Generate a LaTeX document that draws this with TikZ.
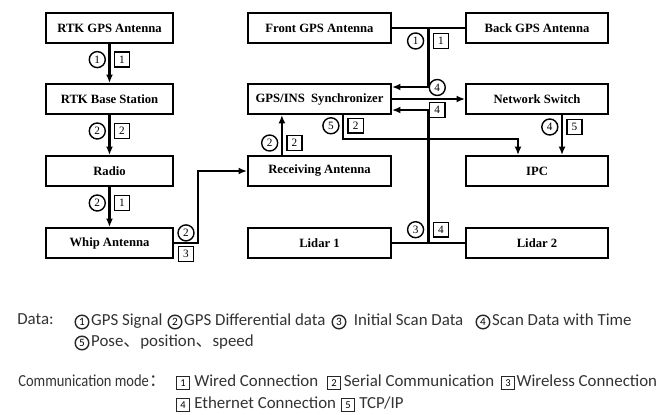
\documentclass[tikz,border=0pt]{standalone}
\usepackage{fontspec}
\setmainfont{Liberation Serif}
\setsansfont{Carlito}
\newfontfamily\cjkfont{Noto Sans CJK SC}
\usetikzlibrary{arrows.meta, positioning, calc}

\begin{document}
\begin{tikzpicture}[x=0.025cm, y=-0.025cm,
  block/.style={draw, line width=1.4pt, minimum height=0.75cm, font=\bfseries\fontsize{9}{11}\selectfont},
  wire/.style={line width=1.5pt},
  arr/.style={wire, -{Latex[length=6pt,width=5pt]}},
  cnum/.style={draw, circle, line width=1pt, inner sep=0pt, minimum size=0.4cm, font=\fontsize{8}{9}\selectfont},
  bnum/.style={draw, line width=1pt, inner sep=0pt, minimum width=0.38cm, minimum height=0.37cm, font=\fontsize{8}{9}\selectfont},
  leg/.style={font=\sffamily\fontsize{12}{14}\selectfont, text=black!80, inner sep=0pt, text height=1.5ex, text depth=.3ex, anchor=west},
  lcirc/.style={draw=black!85, circle, line width=1pt, inner sep=0pt, minimum size=0.34cm, font=\sffamily\fontsize{8}{8}\selectfont},
  lbox/.style={draw=black!85, line width=0.9pt, inner sep=0pt, minimum size=0.31cm, font=\sffamily\fontsize{7.5}{8}\selectfont}]
\useasboundingbox (0,0) rectangle (662,414);

\node[block, minimum width=3.175cm] (rtkant) at (109.5,28) {RTK GPS Antenna};
\node[block, minimum width=3.175cm] (rtkbase) at (109.5,99) {RTK Base Station};
\node[block, minimum width=3.175cm] (radio) at (109.5,171) {Radio};
\node[block, minimum width=3.175cm] (whip) at (109.5,243) {Whip Antenna};
\node[block, minimum width=3.575cm] (front) at (319.5,28) {Front GPS Antenna};
\node[block, minimum width=3.575cm] (sync) at (319.5,99) {GPS/INS\ \ Synchronizer};
\node[block, minimum width=3.575cm] (recv) at (319.5,171) {Receiving Antenna};
\node[block, minimum width=3.575cm] (lidar1) at (319.5,243) {Lidar 1};
\node[block, minimum width=3.55cm] (back) at (537,28) {Back GPS Antenna};
\node[block, minimum width=3.55cm] (switch) at (537,99) {Network Switch};
\node[block, minimum width=3.55cm] (ipc) at (537,171) {IPC};
\node[block, minimum width=3.55cm] (lidar2) at (537,243) {Lidar 2};

\draw[arr] (rtkant) -- node[cnum, left=2.5pt, pos=.4]{1} node[bnum, right=3pt, pos=.4]{1} (rtkbase);
\draw[arr] (rtkbase) -- node[cnum, left=2.5pt, pos=.4]{2} node[bnum, right=3pt, pos=.4]{2} (radio);
\draw[arr] (radio) -- node[cnum, left=2.5pt, pos=.4]{2} node[bnum, right=3pt, pos=.4]{1} (whip);
\draw[arr] (whip.east) -- node[cnum, above=1pt]{2} node[bnum, below=2pt]{3} ++(24,0) |- (recv.west);

\draw[wire] (front) -- (back);
\coordinate (gpsj) at ($(front.east)!.5!(back.west)$);
\draw[arr] (gpsj) |- node[cnum, pos=.11, left=3pt]{1} node[bnum, pos=.11, right=3pt]{1} ([yshift=.3cm]sync.east);
\draw[arr] (sync) -- node[cnum, above=2pt, pos=.62]{4} node[bnum, below=2pt, pos=.62]{4} (switch);
\draw[wire] (lidar1) -- (lidar2);
\coordinate (lidj) at ($(lidar1.east)!.5!(lidar2.west)$);
\draw[arr] (lidj) |- node[cnum, pos=.05, left=3pt]{3} node[bnum, pos=.05, right=3pt]{4} ([yshift=-.275cm]sync.east);
\draw[arr] ([xshift=-.94cm]recv.north) -- node[cnum, left=2.5pt, pos=.3]{2} node[bnum, right=3pt, pos=.3]{2} ([xshift=-.94cm]sync.south);
\draw[arr] ([xshift=.59cm]sync.south) -- node[cnum, left=2.5pt, pos=.45]{5} node[bnum, right=3pt, pos=.45]{2} ++(0,24) -| ([xshift=-.475cm]ipc.north);
\draw[arr] ([xshift=.625cm]switch.south) -- node[cnum, left=2.5pt, pos=.3]{4} node[bnum, right=3pt, pos=.3]{5} ([xshift=.625cm]ipc.north);

\node[leg] (datalbl) at (17,321) {Data:};
\node[lcirc] (d1) at (82,322) {1};
\node[leg, right=1pt of d1] {GPS Signal};
\node[lcirc] (d2) at (175,322) {2};
\node[leg, right=1pt of d2] {GPS Differential data};
\node[lcirc] (d3) at (339,322) {3};
\node[leg, right=5pt of d3] {Initial Scan Data};
\node[lcirc] (d4) at (483,322) {4};
\node[leg, right=1pt of d4] {Scan Data with Time};
\node[lcirc] (d5) at (82,343) {5};
\node[leg, right=1pt of d5] {Pose{\cjkfont 、}position{\cjkfont 、}speed};

\node[leg] (cmlbl) at (18,383) {\scalebox{.86}[1]{Communication mode}{\cjkfont ：}};
\node[lbox] (c1) at (183,383) {1};
\node[leg, right=3pt of c1] {Wired Connection};
\node[lbox] (c2) at (334,383) {2};
\node[leg, right=2pt of c2] {Serial Communication};
\node[lbox] (c3) at (508,383) {3};
\node[leg, right=1pt of c3] {Wireless Connection};
\node[lbox] (c4) at (183,405) {4};
\node[leg, right=3pt of c4] {Ethernet Connection};
\node[lbox] (c5) at (348,405) {5};
\node[leg, right=3pt of c5] {TCP/IP};
\end{tikzpicture}
\end{document}
